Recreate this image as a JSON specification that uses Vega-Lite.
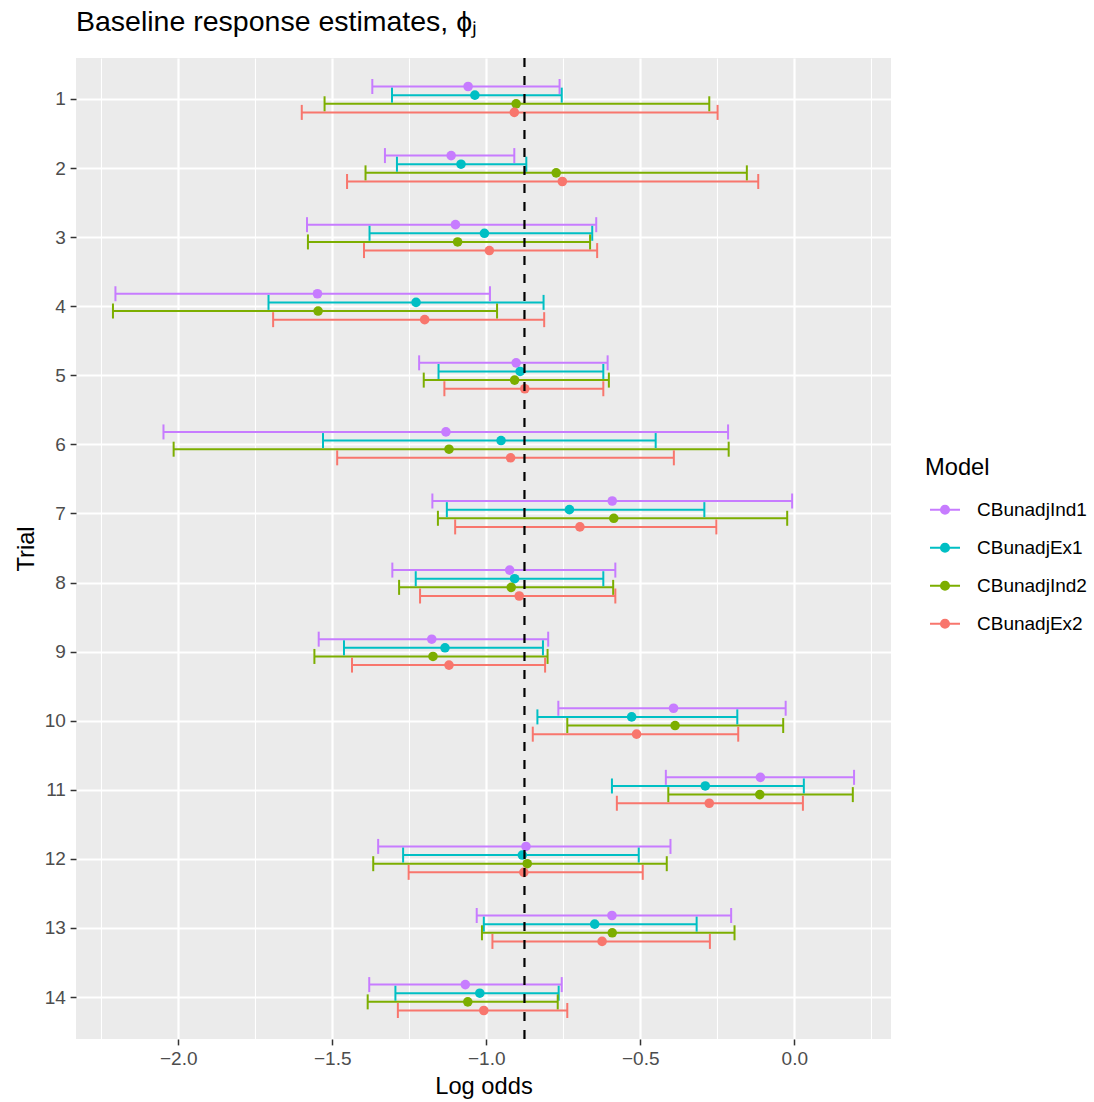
{
  "$schema": "https://vega.github.io/schema/vega-lite/v6.json",
  "width": 815,
  "height": 981,
  "autosize": {"type": "none"},
  "padding": {"left": 76, "top": 58, "right": 203, "bottom": 63},
  "background": "white",
  "title": {"text": "Baseline response estimates, ϕⱼ", "anchor": "start", "frame": "group", "fontSize": 28.5, "font": "Liberation Sans", "fontWeight": "normal", "color": "black", "offset": 20},
  "config": {
    "view": {"fill": "#EBEBEB", "stroke": null},
    "font": "Liberation Sans",
    "axis": {"domain": false, "gridColor": "white", "labelFont": "Liberation Sans", "labelFontSize": 19, "labelColor": "#4D4D4D", "tickColor": "#333333", "tickSize": 5.9, "tickWidth": 1.5, "labelPadding": 4.7, "titleFont": "Liberation Sans", "titleFontSize": 23.7, "titleFontWeight": "normal", "titleColor": "black"}
  },
  "data": {"values": [
    {"t": 1, "m": "CBunadjInd1", "est": -1.059, "lo": -1.370, "hi": -0.762},
    {"t": 1, "m": "CBunadjEx1", "est": -1.037, "lo": -1.306, "hi": -0.755},
    {"t": 1, "m": "CBunadjInd2", "est": -0.903, "lo": -1.525, "hi": -0.276},
    {"t": 1, "m": "CBunadjEx2", "est": -0.909, "lo": -1.599, "hi": -0.249},
    {"t": 2, "m": "CBunadjInd1", "est": -1.114, "lo": -1.329, "hi": -0.909},
    {"t": 2, "m": "CBunadjEx1", "est": -1.082, "lo": -1.290, "hi": -0.870},
    {"t": 2, "m": "CBunadjInd2", "est": -0.773, "lo": -1.392, "hi": -0.154},
    {"t": 2, "m": "CBunadjEx2", "est": -0.753, "lo": -1.452, "hi": -0.117},
    {"t": 3, "m": "CBunadjInd1", "est": -1.100, "lo": -1.582, "hi": -0.643},
    {"t": 3, "m": "CBunadjEx1", "est": -1.006, "lo": -1.379, "hi": -0.656},
    {"t": 3, "m": "CBunadjInd2", "est": -1.093, "lo": -1.579, "hi": -0.663},
    {"t": 3, "m": "CBunadjEx2", "est": -0.990, "lo": -1.397, "hi": -0.640},
    {"t": 4, "m": "CBunadjInd1", "est": -1.548, "lo": -2.204, "hi": -0.988},
    {"t": 4, "m": "CBunadjEx1", "est": -1.228, "lo": -1.707, "hi": -0.814},
    {"t": 4, "m": "CBunadjInd2", "est": -1.546, "lo": -2.212, "hi": -0.965},
    {"t": 4, "m": "CBunadjEx2", "est": -1.200, "lo": -1.692, "hi": -0.812},
    {"t": 5, "m": "CBunadjInd1", "est": -0.903, "lo": -1.218, "hi": -0.606},
    {"t": 5, "m": "CBunadjEx1", "est": -0.890, "lo": -1.155, "hi": -0.620},
    {"t": 5, "m": "CBunadjInd2", "est": -0.908, "lo": -1.203, "hi": -0.602},
    {"t": 5, "m": "CBunadjEx2", "est": -0.875, "lo": -1.136, "hi": -0.620},
    {"t": 6, "m": "CBunadjInd1", "est": -1.131, "lo": -2.048, "hi": -0.215},
    {"t": 6, "m": "CBunadjEx1", "est": -0.952, "lo": -1.530, "hi": -0.450},
    {"t": 6, "m": "CBunadjInd2", "est": -1.121, "lo": -2.015, "hi": -0.213},
    {"t": 6, "m": "CBunadjEx2", "est": -0.921, "lo": -1.484, "hi": -0.391},
    {"t": 7, "m": "CBunadjInd1", "est": -0.591, "lo": -1.175, "hi": -0.007},
    {"t": 7, "m": "CBunadjEx1", "est": -0.730, "lo": -1.128, "hi": -0.292},
    {"t": 7, "m": "CBunadjInd2", "est": -0.586, "lo": -1.157, "hi": -0.023},
    {"t": 7, "m": "CBunadjEx2", "est": -0.696, "lo": -1.101, "hi": -0.253},
    {"t": 8, "m": "CBunadjInd1", "est": -0.924, "lo": -1.305, "hi": -0.581},
    {"t": 8, "m": "CBunadjEx1", "est": -0.908, "lo": -1.229, "hi": -0.620},
    {"t": 8, "m": "CBunadjInd2", "est": -0.919, "lo": -1.283, "hi": -0.588},
    {"t": 8, "m": "CBunadjEx2", "est": -0.893, "lo": -1.215, "hi": -0.581},
    {"t": 9, "m": "CBunadjInd1", "est": -1.177, "lo": -1.544, "hi": -0.799},
    {"t": 9, "m": "CBunadjEx1", "est": -1.134, "lo": -1.462, "hi": -0.816},
    {"t": 9, "m": "CBunadjInd2", "est": -1.173, "lo": -1.558, "hi": -0.801},
    {"t": 9, "m": "CBunadjEx2", "est": -1.121, "lo": -1.436, "hi": -0.809},
    {"t": 10, "m": "CBunadjInd1", "est": -0.392, "lo": -0.766, "hi": -0.028},
    {"t": 10, "m": "CBunadjEx1", "est": -0.528, "lo": -0.834, "hi": -0.185},
    {"t": 10, "m": "CBunadjInd2", "est": -0.387, "lo": -0.737, "hi": -0.036},
    {"t": 10, "m": "CBunadjEx2", "est": -0.512, "lo": -0.849, "hi": -0.182},
    {"t": 11, "m": "CBunadjInd1", "est": -0.110, "lo": -0.417, "hi": 0.194},
    {"t": 11, "m": "CBunadjEx1", "est": -0.289, "lo": -0.592, "hi": 0.031},
    {"t": 11, "m": "CBunadjInd2", "est": -0.112, "lo": -0.409, "hi": 0.190},
    {"t": 11, "m": "CBunadjEx2", "est": -0.276, "lo": -0.576, "hi": 0.028},
    {"t": 12, "m": "CBunadjInd1", "est": -0.871, "lo": -1.351, "hi": -0.402},
    {"t": 12, "m": "CBunadjEx1", "est": -0.883, "lo": -1.270, "hi": -0.505},
    {"t": 12, "m": "CBunadjInd2", "est": -0.867, "lo": -1.367, "hi": -0.414},
    {"t": 12, "m": "CBunadjEx2", "est": -0.878, "lo": -1.252, "hi": -0.492},
    {"t": 13, "m": "CBunadjInd1", "est": -0.592, "lo": -1.031, "hi": -0.205},
    {"t": 13, "m": "CBunadjEx1", "est": -0.648, "lo": -1.008, "hi": -0.317},
    {"t": 13, "m": "CBunadjInd2", "est": -0.591, "lo": -1.014, "hi": -0.194},
    {"t": 13, "m": "CBunadjEx2", "est": -0.624, "lo": -0.980, "hi": -0.274},
    {"t": 14, "m": "CBunadjInd1", "est": -1.068, "lo": -1.380, "hi": -0.755},
    {"t": 14, "m": "CBunadjEx1", "est": -1.021, "lo": -1.295, "hi": -0.765},
    {"t": 14, "m": "CBunadjInd2", "est": -1.060, "lo": -1.385, "hi": -0.768},
    {"t": 14, "m": "CBunadjEx2", "est": -1.008, "lo": -1.287, "hi": -0.737}
  ]},
  "layer": [
    {
      "encoding": {
        "y": {"field": "t", "type": "ordinal", "title": "Trial", "scale": {"paddingInner": 0.5, "paddingOuter": 0.35}, "axis": {"bandPosition": 0.5, "grid": true, "gridWidth": 2.2, "labelAngle": 0, "titlePadding": 6}},
        "yOffset": {"field": "m", "type": "nominal", "scale": {"domain": ["CBunadjInd1", "CBunadjEx1", "CBunadjInd2", "CBunadjEx2"], "paddingInner": 0, "paddingOuter": 0}},
        "color": {"field": "m", "type": "nominal", "scale": {"domain": ["CBunadjInd1", "CBunadjEx1", "CBunadjInd2", "CBunadjEx2"], "range": ["#C77CFF", "#00BFC4", "#7CAE00", "#F8766D"]},
          "legend": {"title": "Model", "orient": "none", "legendX": 849, "legendY": 398, "padding": 0, "titleFont": "Liberation Sans", "titleFontSize": 23.7, "titleFontWeight": "normal", "titleColor": "black", "titlePadding": 14, "labelFont": "Liberation Sans", "labelFontSize": 19, "labelColor": "black", "labelOffset": 16, "symbolOffset": 4, "symbolType": "M-1,0L1,0M-0.27,0A0.27,0.27,0,1,1,0.27,0A0.27,0.27,0,1,1,-0.27,0Z", "symbolSize": 900, "symbolStrokeWidth": 2, "symbolOpacity": 1, "rowPadding": 12,
            "encode": {
              "symbols": {"update": {"fill": {"scale": "color", "field": "value"}, "stroke": {"scale": "color", "field": "value"}, "opacity": {"value": 1}}}
            }}}
      },
      "layer": [
        {
          "mark": {"type": "rule", "strokeWidth": 2},
          "encoding": {
            "x": {"field": "lo", "type": "quantitative", "title": "Log odds", "scale": {"domain": [-2.332, 0.314], "nice": false, "zero": false},
              "axis": {"values": [-2.25, -2, -1.75, -1.5, -1.25, -1, -0.75, -0.5, -0.25, 0, 0.25], "labelOverlap": false, "grid": true, "titlePadding": 5.7,
                "gridWidth": {"condition": {"test": "abs(datum.value*2 - round(datum.value*2)) < 0.001", "value": 2.2}, "value": 1.1},
                "tickOpacity": {"condition": {"test": "abs(datum.value*2 - round(datum.value*2)) < 0.001", "value": 1}, "value": 0},
                "labelExpr": "abs(datum.value*2 - round(datum.value*2)) < 0.001 ? replace(format(datum.value, '.1f'), '-', '−') : ''"}},
            "x2": {"field": "hi"}
          }
        },
        {
          "mark": {"type": "tick", "thickness": 2, "size": 15, "opacity": 1},
          "encoding": {
            "x": {"field": "lo", "type": "quantitative", "title": "Log odds", "scale": {"domain": [-2.332, 0.314], "nice": false, "zero": false},
              "axis": {"values": [-2.25, -2, -1.75, -1.5, -1.25, -1, -0.75, -0.5, -0.25, 0, 0.25], "labelOverlap": false, "grid": true, "titlePadding": 5.7,
                "gridWidth": {"condition": {"test": "abs(datum.value*2 - round(datum.value*2)) < 0.001", "value": 2.2}, "value": 1.1},
                "tickOpacity": {"condition": {"test": "abs(datum.value*2 - round(datum.value*2)) < 0.001", "value": 1}, "value": 0},
                "labelExpr": "abs(datum.value*2 - round(datum.value*2)) < 0.001 ? replace(format(datum.value, '.1f'), '-', '−') : ''"}}
          }
        },
        {
          "mark": {"type": "tick", "thickness": 2, "size": 15, "opacity": 1},
          "encoding": {
            "x": {"field": "hi", "type": "quantitative", "title": "Log odds", "scale": {"domain": [-2.332, 0.314], "nice": false, "zero": false},
              "axis": {"values": [-2.25, -2, -1.75, -1.5, -1.25, -1, -0.75, -0.5, -0.25, 0, 0.25], "labelOverlap": false, "grid": true, "titlePadding": 5.7,
                "gridWidth": {"condition": {"test": "abs(datum.value*2 - round(datum.value*2)) < 0.001", "value": 2.2}, "value": 1.1},
                "tickOpacity": {"condition": {"test": "abs(datum.value*2 - round(datum.value*2)) < 0.001", "value": 1}, "value": 0},
                "labelExpr": "abs(datum.value*2 - round(datum.value*2)) < 0.001 ? replace(format(datum.value, '.1f'), '-', '−') : ''"}}
          }
        },
        {
          "mark": {"type": "point", "filled": true, "size": 92, "opacity": 1},
          "encoding": {
            "x": {"field": "est", "type": "quantitative", "title": "Log odds", "scale": {"domain": [-2.332, 0.314], "nice": false, "zero": false},
              "axis": {"values": [-2.25, -2, -1.75, -1.5, -1.25, -1, -0.75, -0.5, -0.25, 0, 0.25], "labelOverlap": false, "grid": true, "titlePadding": 5.7,
                "gridWidth": {"condition": {"test": "abs(datum.value*2 - round(datum.value*2)) < 0.001", "value": 2.2}, "value": 1.1},
                "tickOpacity": {"condition": {"test": "abs(datum.value*2 - round(datum.value*2)) < 0.001", "value": 1}, "value": 0},
                "labelExpr": "abs(datum.value*2 - round(datum.value*2)) < 0.001 ? replace(format(datum.value, '.1f'), '-', '−') : ''"}}
          }
        }
      ]
    },
    {
      "data": {"values": [{"ref": -0.876}]},
      "mark": {"type": "rule", "strokeWidth": 2.2, "strokeDash": [9, 9], "color": "black"},
      "encoding": {
        "x": {"field": "ref", "type": "quantitative", "title": "Log odds", "scale": {"domain": [-2.332, 0.314], "nice": false, "zero": false},
          "axis": {"values": [-2.25, -2, -1.75, -1.5, -1.25, -1, -0.75, -0.5, -0.25, 0, 0.25], "labelOverlap": false, "grid": true, "titlePadding": 5.7,
            "gridWidth": {"condition": {"test": "abs(datum.value*2 - round(datum.value*2)) < 0.001", "value": 2.2}, "value": 1.1},
            "tickOpacity": {"condition": {"test": "abs(datum.value*2 - round(datum.value*2)) < 0.001", "value": 1}, "value": 0},
            "labelExpr": "abs(datum.value*2 - round(datum.value*2)) < 0.001 ? replace(format(datum.value, '.1f'), '-', '−') : ''"}}
      }
    }
  ]
}
